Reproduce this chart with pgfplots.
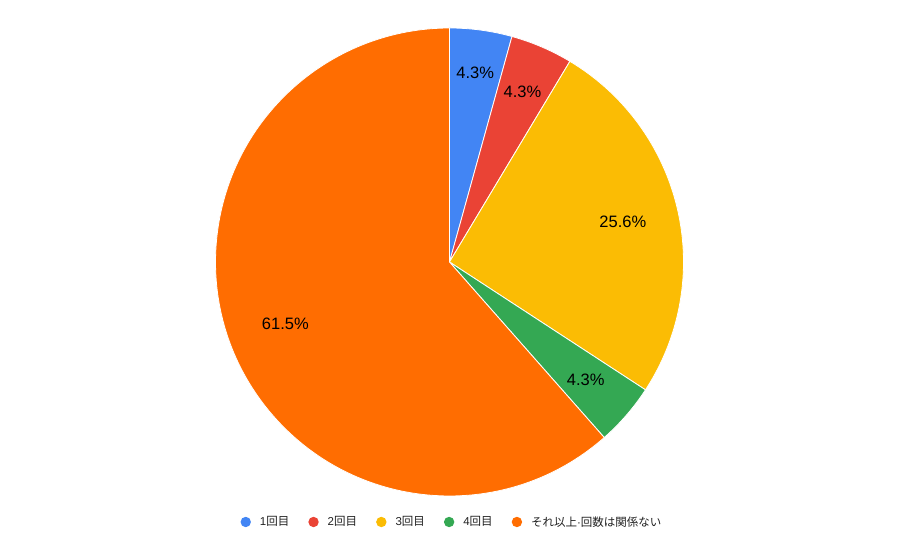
\documentclass[border=0pt]{standalone}
\usepackage{fontspec}
\setmainfont{Liberation Sans}
\newfontfamily\cjk{Noto Sans CJK JP}
\usepackage{pgfplots}
\pgfplotsset{compat=1.18}

\definecolor{c1}{HTML}{4285F4}
\definecolor{c2}{HTML}{EA4335}
\definecolor{c3}{HTML}{FBBC04}
\definecolor{c4}{HTML}{34A853}
\definecolor{c5}{HTML}{FF6D01}

\newcommand\cx{449.5}
\newcommand\cy{295}
\newcommand\rad{234bp}
\newcommand\lblfont{\fontsize{16.5bp}{18bp}\selectfont}

\begin{document}
\begin{tikzpicture}
\begin{axis}[
    hide axis,
    x=1bp, y=1bp,
    xmin=0, xmax=900, ymin=0, ymax=557,
    clip=false,
    legend columns=5,
    legend image code/.code={\path[#1] (0bp,0bp) circle (5.2bp);},
    legend style={draw=none, fill=none,
        at={(axis cs:451,35)}, anchor=center,
        font=\fontsize{11.5bp}{13bp}\selectfont, text=black!87,
        nodes={inner xsep=0pt, inner ysep=1pt},
        /tikz/every odd column/.append style={column sep=9bp},
        /tikz/every even column/.append style={column sep=19bp}},
]
% keep the page as large as the chart area
\path (axis cs:0,0) rectangle (axis cs:900,557);

\addlegendimage{fill=c1, draw=none}\addlegendentry{1{\cjk 回目}}
\addlegendimage{fill=c2, draw=none}\addlegendentry{2{\cjk 回目}}
\addlegendimage{fill=c3, draw=none}\addlegendentry{3{\cjk 回目}}
\addlegendimage{fill=c4, draw=none}\addlegendentry{4{\cjk 回目}}
\addlegendimage{fill=c5, draw=none}\addlegendentry{{\cjk それ以上}·{\cjk 回数は関係ない}}

% slices: percent / colour / label radius fraction
\xdef\cum{0}
\foreach \p/\c/\f in {4.3/c1/0.815, 4.3/c2/0.79, 25.6/c3/0.76, 4.3/c4/0.77, 61.5/c5/0.75}{
    \pgfmathsetmacro\a{90-3.6*\cum}
    \pgfmathsetmacro\d{-3.6*\p}
    \pgfmathsetmacro\m{\a+\d/2}
    \edef\temp{%
        \noexpand\fill[\c, draw=white, line width=0.8bp, line join=round]
            (axis cs:\cx,\cy) -- ++(\a:\rad) arc[start angle=\a, delta angle=\d, radius=\rad] -- cycle;
        \noexpand\path (axis cs:\cx,\cy) ++(\m:\f*\rad)
            node[font=\noexpand\lblfont, text=black] {\p\noexpand\%};
    }
    \temp
    \pgfmathsetmacro\n{\cum+\p}
    \xdef\cum{\n}
}
\end{axis}
\end{tikzpicture}
\end{document}
